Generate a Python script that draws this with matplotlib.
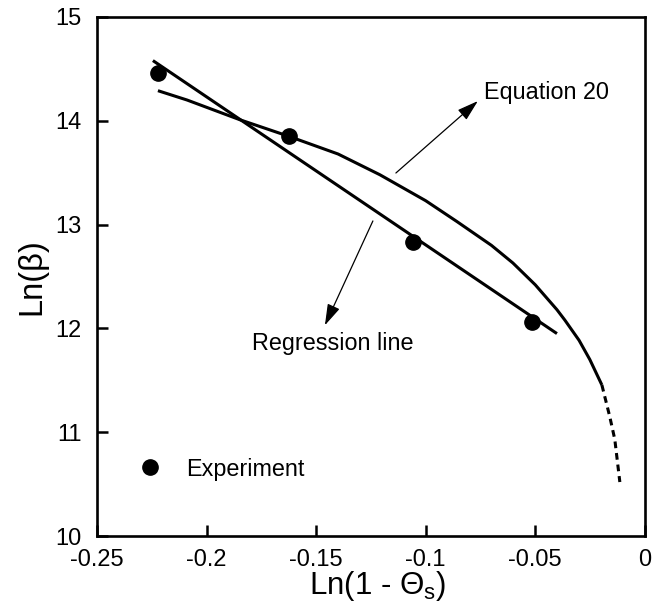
import matplotlib
matplotlib.use("Agg")
import matplotlib.pyplot as plt

plt.rcParams['font.family'] = ['Liberation Sans', 'DejaVu Sans']

# Experimental points
exp_x = [-0.2222, -0.1624, -0.1058, -0.0516]
exp_y = [14.46, 13.85, 12.83, 12.06]

# Regression line (end points)
reg_x = [-0.2245, -0.0401]
reg_y = [14.58, 11.95]

# Equation 20 curve (solid part)
eq20_x = [-0.2222, -0.2089, -0.1848, -0.1624, -0.1400, -0.1209, -0.1000,
          -0.0858, -0.0700, -0.0602, -0.0500, -0.0401, -0.0365, -0.0300,
          -0.0251, -0.0196]
eq20_y = [14.29, 14.20, 14.01, 13.85, 13.68, 13.48, 13.23,
          13.03, 12.80, 12.63, 12.42, 12.18, 12.08, 11.885,
          11.70, 11.455]

# Equation 20 curve (dashed extrapolation)
eq20d_x = [-0.0196, -0.0160, -0.0137, -0.0114]
eq20d_y = [11.455, 11.15, 10.93, 10.52]

xticks = [-0.25, -0.2, -0.15, -0.1, -0.05, 0]
xticklabels = ['-0.25', '-0.2', '-0.15', '-0.1', '-0.05', '0']
yticks = [10, 11, 12, 13, 14, 15]
yticklabels = ['10', '11', '12', '13', '14', '15']

fig = plt.figure(figsize=(6.6, 6.13), dpi=100)
ax = fig.add_axes([0.147, 0.1256, 0.830, 0.8467])

lw = 2.2
ax.plot(reg_x, reg_y, color='black', lw=lw, solid_capstyle='butt')
ax.plot(eq20_x, eq20_y, color='black', lw=lw, solid_capstyle='butt',
        solid_joinstyle='round')
ax.plot(eq20d_x, eq20d_y, color='black', lw=lw, dashes=(2.2, 1.6))
pts, = ax.plot(exp_x, exp_y, 'o', color='black', ms=11, label='Experiment', zorder=5)

ax.set_xlim(-0.25, 0)
ax.set_ylim(10, 15)
ax.set_xticks(xticks)
ax.set_xticklabels(xticklabels)
ax.set_yticks(yticks)
ax.set_yticklabels(yticklabels)
ax.tick_params(direction='in', length=8, width=1.8, labelsize=17,
               top=False, right=False)
ax.tick_params(axis='x', pad=9)
ax.tick_params(axis='y', pad=11)
for s in ax.spines.values():
    s.set_linewidth(1.9)

ax.set_xlabel('Ln(1 - \u0398$_\\mathregular{s}$)', fontsize=22.5)
ax.xaxis.set_label_coords(0.513, -0.064)
ax.set_ylabel('Ln(\u03b2)', fontsize=23.5, labelpad=6)

arrow = dict(arrowstyle='-|>,head_length=0.65,head_width=0.2', lw=0.9,
             color='black', mutation_scale=20, shrinkA=0, shrinkB=0)
ax.annotate('', xy=(-0.0762, 14.19), xytext=(-0.1136, 13.497), arrowprops=arrow)
ax.annotate('', xy=(-0.146, 12.03), xytext=(-0.1241, 13.035), arrowprops=arrow)
ax.text(-0.0735, 14.21, 'Equation 20', fontsize=16.8, ha='left', va='baseline')
ax.text(-0.1793, 11.79, 'Regression line', fontsize=16.8, ha='left', va='baseline')

ax.legend(handles=[pts], loc='center left', bbox_to_anchor=(0.077, 0.129),
          frameon=False, fontsize=16.8, borderpad=0, borderaxespad=0,
          handlelength=0.9, handletextpad=1.1, numpoints=1)

fig.savefig('out.png', dpi=100)
